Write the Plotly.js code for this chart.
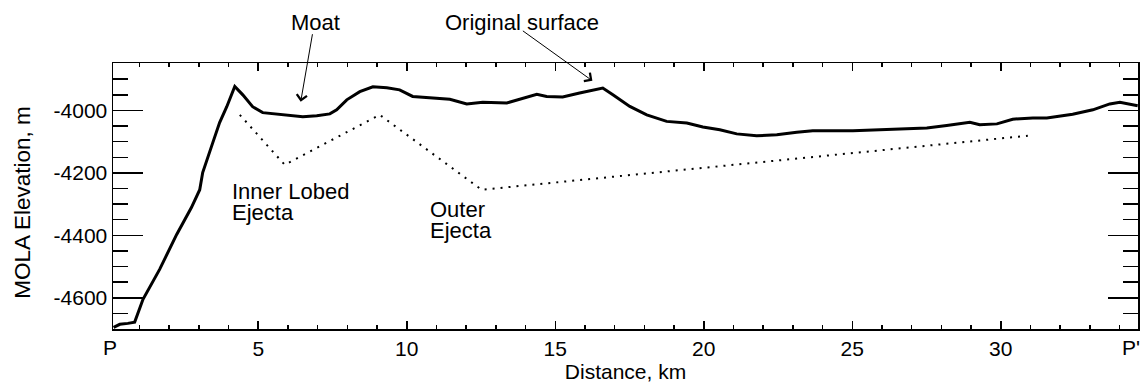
<!DOCTYPE html>
<html>
<head>
<meta charset="utf-8">
<script src="https://cdn.plot.ly/plotly-3.0.1.min.js"></script>
<style>html,body{margin:0;padding:0;background:#fff;}#chart{width:1147px;height:386px;}</style>
</head>
<body>
<div id="chart"></div>
<script>
// Measured surface profile (distance km, MOLA elevation m)
const profileDistance = [0.13,0.34,0.61,0.84,1.12,1.68,2.25,2.75,3.03,3.13,3.47,3.70,3.94,4.21,4.48,4.81,5.15,5.62,6.06,6.50,6.97,7.41,7.64,7.98,8.42,8.86,9.33,9.76,10.20,10.88,11.45,12.02,12.56,13.37,13.91,14.38,14.71,15.25,15.82,16.26,16.60,16.94,17.51,18.08,18.75,19.43,19.97,20.54,21.11,21.78,22.46,23.13,23.67,25.02,25.93,27.51,28.18,28.96,29.29,29.87,30.40,31.08,31.55,32.42,33.10,33.67,34.01,34.24,34.61];
const profileElevation = [-4695,-4685,-4682,-4678,-4605,-4509,-4398,-4311,-4254,-4199,-4103,-4039,-3988,-3923,-3950,-3988,-4007,-4011,-4016,-4020,-4017,-4011,-3998,-3966,-3940,-3924,-3927,-3934,-3955,-3960,-3964,-3979,-3974,-3976,-3960,-3948,-3955,-3957,-3944,-3934,-3928,-3950,-3987,-4014,-4035,-4040,-4053,-4062,-4075,-4081,-4078,-4070,-4065,-4065,-4062,-4056,-4048,-4038,-4046,-4043,-4028,-4024,-4024,-4012,-3998,-3979,-3974,-3979,-3985];

// Interpreted ejecta base (dotted)
const ejectaDistance = [4.38,5.89,9.09,12.52,30.91];
const ejectaElevation = [-4014,-4174,-4014,-4254,-4081];

// Tick labels
const xTickVals = [5,10,15,20,25,30];
const xTickText = ['5','10','15','20','25','30'];
const yTickVals = [-4600,-4400,-4200,-4000];
const yTickText = yTickVals.map(v => String(v));

const FONT = 'Liberation Sans, Arial, Helvetica, sans-serif';

const traces = [
  {x: ejectaDistance, y: ejectaElevation, mode: 'lines', type: 'scatter',
   line: {color: '#000', width: 2, dash: '2px,6px'}, hoverinfo: 'skip'},
  {x: profileDistance, y: profileElevation, mode: 'lines', type: 'scatter',
   line: {color: '#000', width: 3}, hoverinfo: 'skip'}
];

const ann = (o) => Object.assign({showarrow: false, font: {family: FONT, size: 22, color: '#000'}}, o);

const layout = {
  width: 1147, height: 386,
  margin: {l: 113, r: 9, t: 63, b: 57},
  paper_bgcolor: '#fff', plot_bgcolor: '#fff',
  showlegend: false,
  font: {family: FONT, size: 21, color: '#000'},
  xaxis: {
    range: [0.11, 34.62],
    tickmode: 'array', tickvals: xTickVals, ticktext: xTickText,
    ticks: 'inside', ticklen: 8, tickwidth: 1.5, tickcolor: '#000',
    minor: {tick0: 0, dtick: 1, ticks: 'inside', ticklen: 4, tickwidth: 1.5, tickcolor: '#000'},
    showline: true, linecolor: '#000', linewidth: 1.5, mirror: 'ticks',
    showgrid: false, zeroline: false,
    tickfont: {family: FONT, size: 21, color: '#000'},
    title: {text: 'Distance, km', font: {family: FONT, size: 21, color: '#000'}, standoff: 3}
  },
  yaxis: {
    range: [-4700, -3848],
    tickmode: 'array', tickvals: yTickVals, ticktext: yTickText,
    ticks: 'inside', ticklen: 30, tickwidth: 1.5, tickcolor: '#000',
    minor: {tick0: -4000, dtick: 50, ticks: 'inside', ticklen: 15, tickwidth: 1.5, tickcolor: '#000'},
    showline: true, linecolor: '#000', linewidth: 1.5, mirror: 'ticks',
    showgrid: false, zeroline: false,
    tickfont: {family: FONT, size: 21, color: '#000'}
  },
  annotations: [
    ann({text: 'MOLA Elevation, m', xref: 'paper', yref: 'paper', x: -0.0886, y: 0.475,
         xanchor: 'center', yanchor: 'middle', textangle: -90, font: {family: FONT, size: 22.5, color: '#000'}}),
    ann({text: 'P', xref: 'paper', yref: 'paper', x: -0.003, y: -0.068, xanchor: 'center', yanchor: 'middle', font: {family: FONT, size: 21, color: '#000'}}),
    ann({text: "P'", xref: 'paper', yref: 'paper', x: 0.9936, y: -0.068, xanchor: 'center', yanchor: 'middle', font: {family: FONT, size: 21, color: '#000'}}),
    ann({text: 'Moat', xref: 'x', yref: 'paper', x: 6.94, y: 1.153, xanchor: 'center', yanchor: 'middle'}),
    ann({text: 'Original surface', xref: 'x', yref: 'paper', x: 13.87, y: 1.153, xanchor: 'center', yanchor: 'middle'}),
    ann({text: 'Inner Lobed', xref: 'x', yref: 'y', x: 4.04, y: -4258, xanchor: 'left', yanchor: 'middle'}),
    ann({text: 'Ejecta', xref: 'x', yref: 'y', x: 4.04, y: -4327, xanchor: 'left', yanchor: 'middle'}),
    ann({text: 'Outer', xref: 'x', yref: 'y', x: 10.71, y: -4318, xanchor: 'left', yanchor: 'middle'}),
    ann({text: 'Ejecta', xref: 'x', yref: 'y', x: 10.71, y: -4386, xanchor: 'left', yanchor: 'middle'}),
    {text: '', xref: 'x', yref: 'y', x: 6.43, y: -3972, ax: 12, ay: -69, showarrow: true,
     arrowhead: 4, arrowsize: 2, arrowwidth: 1, arrowcolor: '#000', standoff: 0},
    {text: '', xref: 'x', yref: 'y', x: 16.25, y: -3905, ax: -71, ay: -51, showarrow: true,
     arrowhead: 4, arrowsize: 2, arrowwidth: 1, arrowcolor: '#000', standoff: 0}
  ]
};

Plotly.newPlot('chart', traces, layout, {displayModeBar: false, staticPlot: true});
</script>
</body>
</html>
